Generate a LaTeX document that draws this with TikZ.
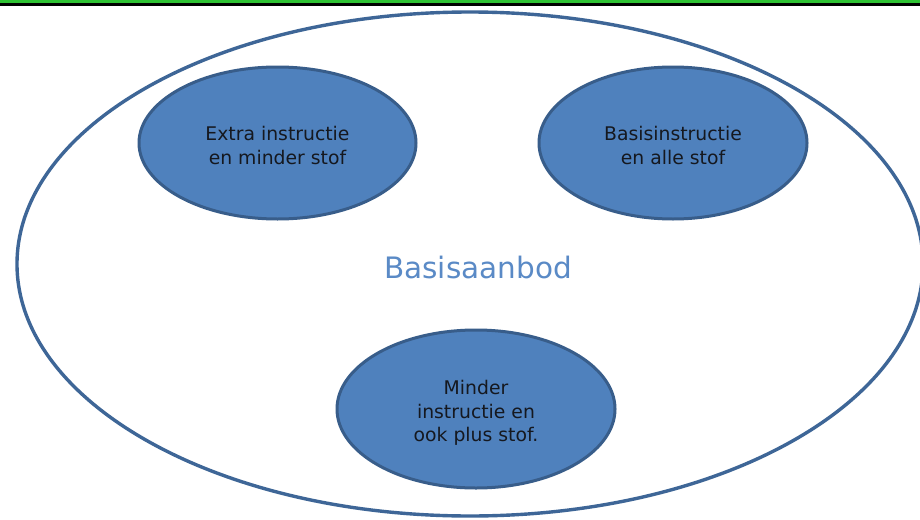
\documentclass[tikz,border=0pt]{standalone}
\usepackage{fontspec}
\setmainfont{DejaVu Sans}
\usetikzlibrary{shapes.geometric}
\definecolor{blobfill}{HTML}{4F81BD}
\definecolor{blobline}{HTML}{385D8A}
\definecolor{outerline}{HTML}{3E6697}
\definecolor{labelblue}{HTML}{5A8AC6}
\definecolor{textdark}{HTML}{15181F}
\definecolor{topgreen}{HTML}{2EC233}
\tikzset{
  blob/.style={ellipse, draw=blobline, line width=3pt, fill=blobfill, inner sep=0pt},
  blobtext/.style={align=center, text=textdark, inner sep=0pt,
    font=\fontsize{18.8}{23.5}\selectfont},
  outer/.style={ellipse, draw=outerline, line width=3.4pt, inner sep=0pt}
}
\begin{document}
\begin{tikzpicture}[x=1pt,y=-1pt]
\useasboundingbox (0,0) rectangle (920,519);
\clip (0,0) rectangle (920,519);
\fill[white] (0,0) rectangle (920,519);
\fill[topgreen] (0,0) rectangle (920,3.2);
\fill[black] (0,3.2) rectangle (920,6.2);
\node[outer, minimum width=906pt, minimum height=504pt] (base) at (470,264) {};
\node[blob, minimum width=277pt, minimum height=152pt] (extra) at (277.5,143) {};
\node[blob, minimum width=268pt, minimum height=152pt] (basis) at (673,143) {};
\node[blob, minimum width=278pt, minimum height=158pt] (minder) at (476,409) {};
\node[blobtext] (extratext) at ([yshift=-2.5pt]extra.center) {Extra instructie\\en minder stof};
\node[blobtext] (basistext) at ([yshift=-2.5pt]basis.center) {Basisinstructie\\en alle stof};
\node[blobtext] (mindertext) at ([yshift=-4pt]minder.center) {Minder\\instructie en\\ook plus stof.};
\node[text=labelblue, font=\fontsize{29.5}{34}\selectfont, inner sep=0pt] (label) at (478,267) {Basisaanbod};
\end{tikzpicture}
\end{document}
